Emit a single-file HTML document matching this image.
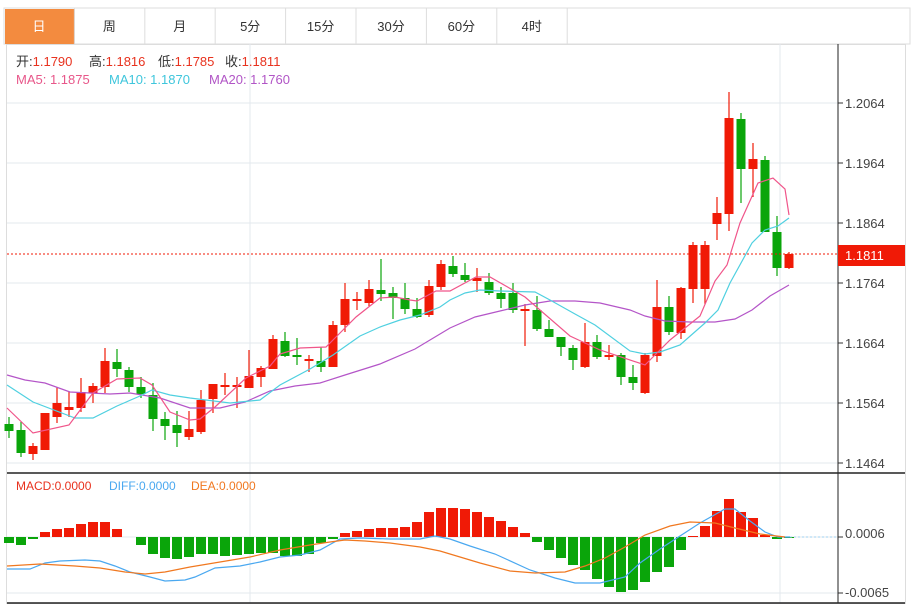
<!DOCTYPE html>
<html><head><meta charset="utf-8"><style>
body{margin:0;background:#fff;width:912px;height:606px;overflow:hidden;font-family:"Liberation Sans","Noto Sans CJK SC",sans-serif}
svg{position:absolute;left:0;top:0}
</style></head><body>
<svg id="s" width="912" height="606" xmlns="http://www.w3.org/2000/svg" font-family="Liberation Sans, Noto Sans CJK SC, sans-serif"></svg>
<script>
const s=document.getElementById('s');let h='';
h+='<rect x="4" y="8" width="906" height="36" fill="#fff" stroke="#ddd"/>';
const tabs=['日','周','月','5分','15分','30分','60分','4时'];
tabs.forEach((t,i)=>{const x=4+i*70.4;
 if(i==0)h+=`<rect x="5" y="9" width="70" height="35" fill="#f38b3f"/>`;
 h+=`<line x1="${x+70.4}" y1="8" x2="${x+70.4}" y2="44" stroke="#ddd"/>`;
 h+=`<text x="${x+35}" y="31" font-size="13" text-anchor="middle" fill="${i==0?'#fff':'#333'}">${t}</text>`;});
h+='<rect x="6.5" y="44.5" width="899" height="559" fill="none" stroke="#ddd"/>';
const lv=['1.2064','1.1964','1.1864','1.1764','1.1664','1.1564','1.1464'];
lv.forEach((l,i)=>{const y=103+i*60;h+=`<line x1="7" y1="${y}" x2="838" y2="${y}" stroke="#e3e8ee"/><line x1="838" y1="${y}" x2="843" y2="${y}" stroke="#333"/><text x="845" y="${y+5}" font-size="13" fill="#444">${l}</text>`;});
[250,780].forEach(x=>h+=`<line x1="${x}" y1="44" x2="${x}" y2="603" stroke="#e3e8ee"/>`);
h+='<line x1="7" y1="537" x2="838" y2="537" stroke="#e3e8ee"/><line x1="7" y1="593" x2="838" y2="593" stroke="#e3e8ee"/>';
h+='<line x1="838" y1="537" x2="843" y2="537" stroke="#333"/><text x="845" y="538" font-size="13" fill="#444">0.0006</text>';
h+='<line x1="838" y1="593" x2="843" y2="593" stroke="#333"/><text x="845" y="597" font-size="13" fill="#444">-0.0065</text>';
h+='<line x1="7" y1="473" x2="905" y2="473" stroke="#222" stroke-width="1.5"/><line x1="7" y1="603" x2="905" y2="603" stroke="#222" stroke-width="1.5"/><line x1="838" y1="44" x2="838" y2="603" stroke="#222"/>';
const C=[[424,431,417,438],[430,453,422,457],[454,446,443,460],[450,413,413,450],[417,403,387,423],[410,407,392,417],[408,392,378,412],[393,386,383,403],[387,361,348,393],[362,369,349,377],[370,387,367,392],[387,394,377,398],[395,419,383,431],[419,426,412,440],[425,433,411,447],[437,429,411,440],[432,400,390,434],[399,384,384,413],[385,385,373,395],[385,385,377,408],[388,376,350,388],[377,368,366,387],[369,339,335,369],[341,356,332,357],[355,357,338,365],[361,359,355,372],[361,367,347,372],[367,325,321,367],[325,299,283,332],[299,299,292,310],[303,289,280,306],[290,294,259,301],[293,298,287,319],[298,309,283,314],[309,317,298,318],[315,286,280,317],[287,264,260,290],[266,274,256,277],[275,280,263,282],[281,278,268,292],[282,293,273,295],[293,299,287,308],[293,310,283,313],[311,309,304,346],[310,329,296,331],[329,337,320,337],[337,347,337,356],[348,360,345,370],[367,342,323,368],[342,357,335,359],[357,355,345,360],[355,377,353,385],[377,383,365,390],[393,355,353,394],[356,307,280,362],[307,332,296,335],[333,288,287,339],[289,245,242,303],[289,245,241,304],[224,213,197,240],[214,118,92,231],[119,169,113,203],[169,159,143,197],[160,232,156,232],[232,268,216,276],[268,254,252,269]];
C.forEach((c,i)=>{const x=9+12*i;const[o,cl,hi,lo]=c;const col=cl<o||[18,19,25,29,43,50].includes(i)?'#f01a06':'#0aa50a';
 h+=`<line x1="${x}" y1="${hi}" x2="${x}" y2="${lo}" stroke="${col}" stroke-width="1.2"/>`;
 const t=Math.min(o,cl),b=Math.max(o,cl,t+2);h+=`<rect x="${x-4.5}" y="${t}" width="9" height="${b-t}" fill="${col}"/>`;});
function pl(p,col,w){return `<polyline points="${p.map(a=>a.join(',')).join(' ')}" fill="none" stroke="${col}" stroke-width="${w||1.2}"/>`}
h+=pl([[7,375],[25,380],[45,383],[70,392],[90,393],[110,394],[130,393],[160,398],[190,408],[220,408],[245,402],[270,391],[295,386],[320,383],[345,375],[380,364],[415,349],[440,334],[450,328],[475,317],[500,311],[525,305],[550,301],[575,301],[600,303],[630,310],[645,316],[665,321],[690,322],[715,322],[735,319],[752,310],[770,296],[789,285]],'#b455c8');
h+=pl([[7,385],[33,402],[75,418],[93,418],[117,406],[140,396],[152,390],[170,395],[190,398],[230,403],[260,400],[280,385],[310,369],[333,355],[360,336],[380,327],[400,320],[420,315],[440,307],[450,300],[465,293],[480,290],[500,291],[535,292],[550,300],[575,314],[595,325],[630,351],[645,354],[660,352],[680,345],[705,323],[718,310],[730,283],[752,243],[765,230],[778,226],[789,218]],'#4fd0e0');
h+=pl([[7,408],[33,433],[69,425],[93,393],[117,379],[140,378],[152,385],[170,412],[190,420],[200,419],[215,407],[246,378],[270,366],[280,354],[300,348],[326,347],[336,337],[356,317],[380,298],[395,297],[410,300],[417,301],[436,291],[450,291],[476,277],[490,277],[525,297],[570,336],[600,350],[645,365],[670,340],[700,316],[715,281],[727,265],[740,223],[758,183],[773,178],[785,189],[789,215]],'#f0558a');
h+='<line x1="7" y1="254" x2="838" y2="254" stroke="#f01a06" stroke-dasharray="2,2"/><rect x="838" y="245" width="67" height="21" fill="#f01a06"/><text x="845" y="260" font-size="13" fill="#fff">1.1811</text>';
const M=[543,545,539,532,529,528,524,522,522,529,537,545,554,558,559,557,554,554,556,555,554,553,553,556,556,554,543,539,533,531,529,528,528,527,522,512,508,508,509,512,517,521,527,533,542,550,558,565,570,579,587,592,590,582,572,567,550,536,526,511,499,512,518,535,539,538];
M.forEach((y,i)=>{const x=9+12*i;const b=537;if(Math.abs(y-b)<1)return;const col=y<b?'#f01a06':'#0aa50a';h+=`<rect x="${x-5}" y="${Math.min(y,b)}" width="10" height="${Math.abs(y-b)}" fill="${col}"/>`;});
h+=pl([[7,569],[30,569],[45,563],[60,561],[85,560],[100,561],[115,566],[130,572],[150,577],[165,581],[185,580],[195,577],[215,568],[240,566],[260,562],[280,557],[300,555],[320,550],[340,539],[360,538],[390,539],[420,539],[435,536],[450,539],[470,546],[495,554],[530,570],[555,578],[575,583],[600,583],[625,577],[640,563],[660,549],[680,536],[700,523],[725,509],[735,509],[750,521],[765,532],[778,537],[790,537]],'#4aa8f0');
h+=pl([[7,566],[40,564],[75,566],[100,568],[125,572],[145,574],[165,572],[190,567],[220,562],[250,557],[280,550],[310,545],[330,542],[345,540],[365,541],[390,543],[420,547],[440,551],[460,557],[480,563],[510,571],[535,573],[565,572],[585,566],[605,558],[625,547],[645,535],[670,526],[690,522],[715,523],[735,528],[760,534],[785,537]],'#f07820');
h+='<line x1="790" y1="537" x2="838" y2="537" stroke="#9fd0f0" stroke-dasharray="2,2"/>';
h+='<g font-size="13"><text x="16" y="66" fill="#333">开:<tspan fill="#e8321e">1.1790</tspan></text><text x="89" y="66" fill="#333">高:<tspan fill="#e8321e">1.1816</tspan></text><text x="158" y="66" fill="#333">低:<tspan fill="#e8321e">1.1785</tspan></text><text x="225" y="66" fill="#333">收:<tspan fill="#e8321e">1.1811</tspan></text>';
h+='<text x="16" y="84" fill="#e8578a">MA5: 1.1875</text><text x="109" y="84" fill="#3fc6dc">MA10: 1.1870</text><text x="209" y="84" fill="#b155c6">MA20: 1.1760</text></g>';
h+='<g font-size="12"><text x="16" y="490" fill="#e8321e">MACD:0.0000</text><text x="109" y="490" fill="#4aa8f0">DIFF:0.0000</text><text x="191" y="490" fill="#f07820">DEA:0.0000</text></g>';
s.innerHTML=h;
</script>
</body></html>
